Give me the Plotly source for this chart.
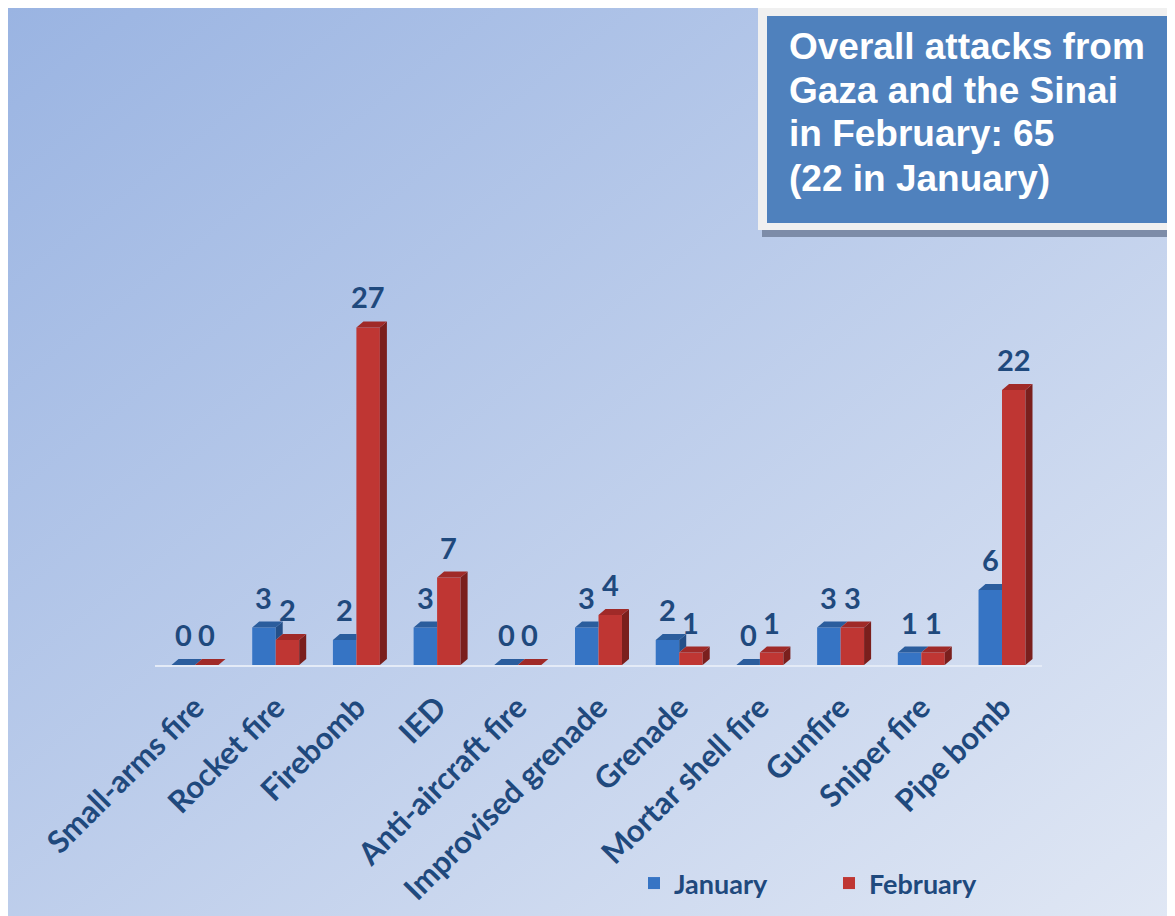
import base64
import plotly.graph_objects as go

# ---------------- data ----------------
categories = ["Small-arms fire", "Rocket fire", "Firebomb", "IED", "Anti-aircraft fire",
              "Improvised grenade", "Grenade", "Mortar shell fire", "Gunfire",
              "Sniper fire", "Pipe bomb"]
january = [0, 3, 2, 3, 0, 3, 2, 0, 3, 1, 6]
february = [0, 2, 27, 7, 0, 4, 1, 1, 3, 1, 22]
series_names = ["January", "February"]
title_lines = ["Overall attacks from", "Gaza and the Sinai", "in February: 65", "(22 in January)"]

# ---------------- geometry / style ----------------
OFF = 8                      # page body margin
W, H = 1175 - OFF, 916 - OFF
TXT = "#1f497d"
BLUE_FRONT, BLUE_TOP, BLUE_SIDE = "#3674c4", "#2b5d9d", "#244f88"
RED_FRONT, RED_TOP, RED_SIDE = "#bf3633", "#a02a28", "#7a1f1d"

bw = 0.291      # bar width in category units
dx = 0.087      # depth offset (x units)
dy = 0.48       # depth offset (y units)


def px_x(p):
    return (p - OFF) / W


def px_y(p):
    return 1 - (p - OFF) / H


idx = list(range(len(categories)))

fig = go.Figure()

# front faces
fig.add_trace(go.Bar(x=[i - bw / 2 for i in idx], y=january, width=bw, name=series_names[0],
                     marker=dict(color=BLUE_FRONT, line=dict(width=0)), hoverinfo="y"))
fig.add_trace(go.Bar(x=[i + bw / 2 for i in idx], y=february, width=bw, name=series_names[1],
                     marker=dict(color=RED_FRONT, line=dict(width=0)), hoverinfo="y"))


def poly_trace(polys, color):
    xs, ys = [], []
    for p in polys:
        for (a, b) in p + [p[0]]:
            xs.append(a)
            ys.append(b)
        xs.append(None)
        ys.append(None)
    return go.Scatter(x=xs, y=ys, mode="lines", fill="toself", fillcolor=color,
                      line=dict(width=0, color=color), showlegend=False, hoverinfo="skip")


blue_side, blue_top, red_side, red_top = [], [], [], []
for i, b, r in zip(idx, january, february):
    if b >= r:
        blue_top.append([(i - bw, b), (i, b), (i + dx, b + dy), (i - bw + dx, b + dy)])
    else:
        blue_top.append([(i - bw, b), (i, b), (i, b + dy), (i - bw + dx, b + dy)])
    if b > r:
        blue_side.append([(i, r), (i, b), (i + dx, b + dy), (i + dx, r + dy)])
    red_top.append([(i, r), (i + bw, r), (i + bw + dx, r + dy), (i + dx, r + dy)])
    red_side.append([(i + bw, 0), (i + bw, r), (i + bw + dx, r + dy), (i + bw + dx, dy)])

fig.add_trace(poly_trace(blue_side, BLUE_SIDE))
fig.add_trace(poly_trace(blue_top, BLUE_TOP))
fig.add_trace(poly_trace(red_side, RED_SIDE))
fig.add_trace(poly_trace(red_top, RED_TOP))

label_font = dict(family="Lato", size=29, color=TXT, weight="bold")
annotations = []
for i, b, r in zip(idx, january, february):
    annotations.append(dict(x=i - bw / 2, y=b + dy, xref="x", yref="y", text=str(b),
                            showarrow=False, yanchor="bottom", yshift=5, font=label_font))
    annotations.append(dict(x=i + bw / 2, y=r + dy, xref="x", yref="y", text=str(r),
                            showarrow=False, yanchor="bottom", yshift=5, font=label_font))

# title box text
title_y = [47, 91, 134, 178]
for t, yy in zip(title_lines, title_y):
    annotations.append(dict(x=px_x(787), y=px_y(yy), xref="paper", yref="paper", text=t,
                            showarrow=False, xanchor="left", yanchor="middle",
                            font=dict(family="Liberation Sans, Arial", size=37, color="white",
                                      weight="bold")))

shapes = [
    dict(type="rect", xref="paper", yref="paper", x0=px_x(762), x1=px_x(1175),
         y0=px_y(12), y1=px_y(237), fillcolor="#7d8ca8", line=dict(width=0), layer="above"),
    dict(type="rect", xref="paper", yref="paper", x0=px_x(758), x1=px_x(1171),
         y0=px_y(8), y1=px_y(230), fillcolor="#f0f0f0", line=dict(width=0), layer="above"),
    dict(type="rect", xref="paper", yref="paper", x0=px_x(767), x1=px_x(1167),
         y0=px_y(16), y1=px_y(223), fillcolor="#4f81bd", line=dict(width=0), layer="above"),
]

svg = ("<svg xmlns='http://www.w3.org/2000/svg' width='1167' height='908' preserveAspectRatio='none'>"
       "<defs><linearGradient id='g' x1='0' y1='0' x2='1' y2='1'>"
       "<stop offset='0' stop-color='#9ab4e2'/><stop offset='1' stop-color='#e0e7f4'/>"
       "</linearGradient></defs><rect width='1167' height='908' fill='url(#g)'/></svg>")
bg_src = "data:image/svg+xml;base64," + base64.b64encode(svg.encode()).decode()

cat_w = 80.7
left_px = 195 - cat_w / 2
right_px = left_px + cat_w * len(categories)

fig.update_layout(
    width=W, height=H,
    margin=dict(l=0, r=0, t=0, b=0),
    paper_bgcolor="white",
    plot_bgcolor="rgba(0,0,0,0)",
    barmode="overlay",
    showlegend=True,
    legend=dict(orientation="h", x=px_x(634), y=px_y(859), xanchor="left", yanchor="top",
                entrywidth=150, entrywidthmode="pixels", bgcolor="rgba(0,0,0,0)",
                font=dict(family="Lato", size=27, color=TXT, weight="bold"), itemclick=False),
    xaxis=dict(domain=[px_x(left_px), px_x(right_px)], range=[-0.5, len(categories) - 0.5],
               tickmode="array", tickvals=idx, ticktext=categories, tickangle=-45,
               showgrid=False, zeroline=False, showline=True, linecolor="#e4ebf7", linewidth=2,
               ticks="", ticklabelstandoff=10, automargin=False,
               tickfont=dict(family="Lato", size=31, color=TXT, weight="bold")),
    yaxis=dict(domain=[px_y(665), px_y(265)], range=[0, 32], visible=False, automargin=False),
    annotations=annotations,
    shapes=shapes,
    images=[dict(source=bg_src, xref="paper", yref="paper", x=0, y=1,
                 sizex=1, sizey=1, xanchor="left", yanchor="top",
                 sizing="stretch", layer="below")],
)

fig.write_html("out.html")
